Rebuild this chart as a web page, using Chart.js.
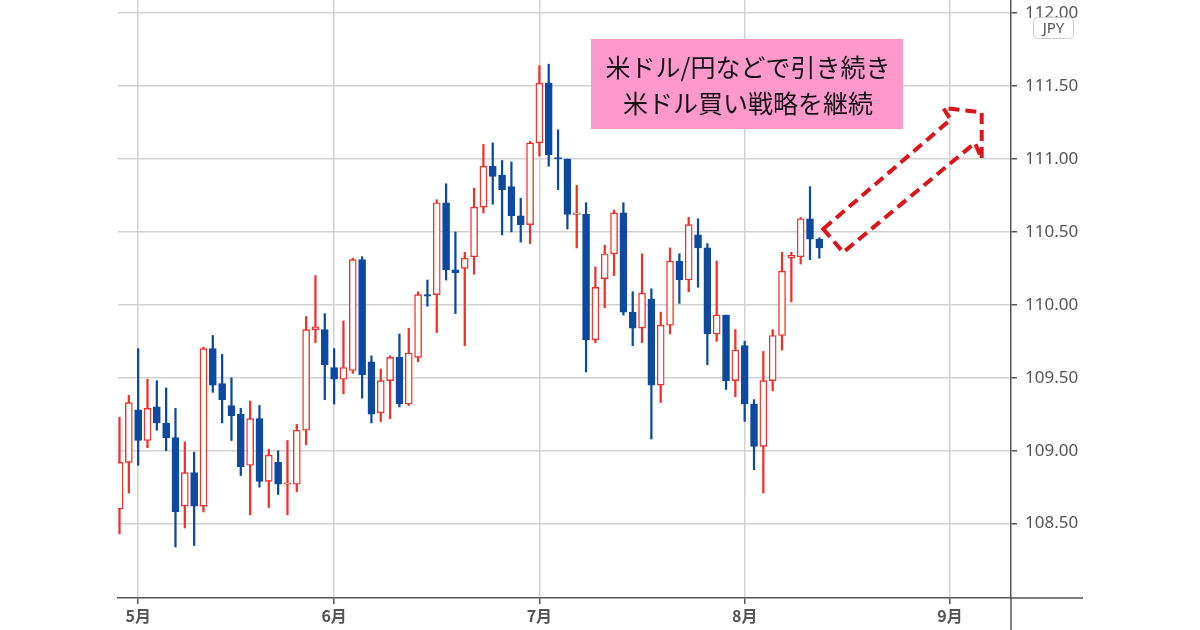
<!DOCTYPE html>
<html>
<head>
<meta charset="utf-8">
<script src="https://cdn.jsdelivr.net/npm/chart.js@4.4.1/dist/chart.umd.min.js"></script>
<style>
    body { margin: 0; background: #ffffff; }
    #wrap { width: 1200px; height: 630px; }
</style>
</head>
<body>
<div id="wrap"><canvas id="usdjpy-chart"></canvas></div>
<script>
// trading days from 4/29, one candle per weekday
var open_vals  = [108.60, 108.92, 109.28, 109.07, 109.30, 109.19, 109.09, 108.62, 108.85, 108.62,
                  109.70, 109.46, 109.31, 109.25, 108.90, 109.22, 108.79, 108.92, 108.77, 108.77,
                  109.14, 109.83, 109.83, 109.57, 109.49, 109.55, 110.31, 109.61, 109.26, 109.48,
                  109.64, 109.32, 109.64, 110.07, 110.07, 110.70, 110.24, 110.25, 110.33, 110.67,
                  110.95, 110.89, 110.81, 110.61, 110.55, 111.11, 111.52, 111.01, 111.00, 110.62,
                  110.62, 109.76, 110.18, 110.35, 110.63, 109.95, 109.84, 110.04, 109.45, 109.86,
                  110.30, 110.17, 110.48, 110.39, 109.80, 109.93, 109.48, 109.72, 109.32, 109.03,
                  109.48, 109.79, 110.32, 110.33, 110.59, 110.45];
var high_vals  = [109.23, 109.38, 109.70, 109.49, 109.48, 109.43, 109.29, 109.06, 108.99, 109.71,
                  109.79, 109.66, 109.50, 109.29, 109.34, 109.31, 109.01, 109.00, 109.07, 109.18,
                  109.92, 110.20, 109.94, 109.70, 109.89, 110.32, 110.33, 109.65, 109.56, 109.65,
                  109.80, 109.84, 110.09, 110.17, 110.72, 110.83, 110.50, 110.36, 110.80, 111.10,
                  111.11, 110.99, 110.98, 110.73, 111.12, 111.64, 111.65, 111.20, 111.00, 110.82,
                  110.70, 110.26, 110.41, 110.65, 110.70, 110.09, 110.35, 110.11, 109.95, 110.39,
                  110.35, 110.60, 110.59, 110.42, 110.30, 109.93, 109.83, 109.75, 109.35, 109.68,
                  109.83, 110.36, 110.36, 110.60, 110.81, 110.46];
var low_vals   = [108.43, 108.71, 108.90, 109.02, 109.14, 109.00, 108.34, 108.47, 108.35, 108.58,
                  109.40, 109.19, 109.07, 108.83, 108.56, 108.75, 108.61, 108.70, 108.56, 108.72,
                  109.04, 109.74, 109.35, 109.32, 109.39, 109.53, 109.36, 109.19, 109.20, 109.22,
                  109.30, 109.31, 109.61, 109.99, 109.81, 110.17, 109.94, 109.72, 110.21, 110.63,
                  110.69, 110.48, 110.50, 110.43, 110.42, 111.02, 110.95, 110.79, 110.52, 110.39,
                  109.54, 109.74, 109.98, 110.20, 109.93, 109.72, 109.74, 109.08, 109.33, 109.80,
                  110.01, 110.09, 110.12, 109.59, 109.75, 109.42, 109.37, 109.20, 108.87, 108.71,
                  109.41, 109.69, 110.02, 110.28, 110.31, 110.32];
var close_vals = [108.92, 109.33, 109.07, 109.29, 109.19, 109.09, 108.58, 108.85, 108.62, 109.70,
                  109.45, 109.35, 109.24, 108.89, 109.22, 108.79, 108.97, 108.77, 108.78, 109.14,
                  109.83, 109.85, 109.59, 109.49, 109.57, 110.31, 109.52, 109.25, 109.48, 109.64,
                  109.32, 109.67, 110.07, 110.06, 110.70, 110.24, 110.22, 110.32, 110.67, 110.95,
                  110.88, 110.79, 110.61, 110.55, 111.11, 111.52, 111.03, 111.00, 110.62, 110.63,
                  109.76, 110.12, 110.35, 110.63, 109.95, 109.84, 110.08, 109.45, 109.86, 110.30,
                  110.17, 110.55, 110.39, 109.80, 109.93, 109.48, 109.69, 109.32, 109.03, 109.48,
                  109.79, 110.23, 110.34, 110.59, 110.45, 110.39];

var month_idx = [2, 23, 45, 67, 89];
var month_labels = ["5月", "6月", "7月", "8月", "9月"];
var y_ticks = [108.5, 109.0, 109.5, 110.0, 110.5, 111.0, 111.5, 112.0];

var note_lines = ["米ドル/円などで引き続き", "米ドル買い戦略を継続"];
var currency = "JPY";

// outline of the dashed arrow, in (candle index, price)
var arrow_pts = [[75.42, 110.52], [89.07, 111.27], [88.28, 111.35], [92.40, 111.32],
                 [92.40, 111.00], [91.68, 111.11], [77.56, 110.36]];

const UP = "#f0302c";
const DOWN = "#0d4a9f";
const AXIS = "#555555";
const GRID = "#d2d2d2";

function is_up(i) {
    return close_vals[i] >= open_vals[i];
}

function no_padding(s) {
    s.paddingTop = 0;
    s.paddingBottom = 0;
    s.paddingLeft = 0;
    s.paddingRight = 0;
}

let bodies = open_vals.map((o, i) => ({ x: i, y: [o, close_vals[i]] }));
let wicks = low_vals.map((l, i) => ({ x: i, y: [l, high_vals[i]] }));

const extras = {
    id: "extras",
    afterDraw(chart) {
        const ctx = chart.ctx;
        const area = chart.chartArea;
        const xs = chart.scales.x;
        const ys = chart.scales.y;

        ctx.save();
        // axis lines run past the plot
        ctx.strokeStyle = AXIS;
        ctx.lineWidth = 1.5;
        ctx.beginPath();
        ctx.moveTo(area.right, area.bottom);
        ctx.lineTo(1083, area.bottom);
        ctx.moveTo(area.right, area.bottom);
        ctx.lineTo(area.right, 630);
        ctx.stroke();

        // currency badge
        ctx.fillStyle = "#ffffff";
        ctx.strokeStyle = "#cccccc";
        ctx.lineWidth = 1;
        ctx.beginPath();
        ctx.roundRect(1033.5, 17.5, 40, 21, 4);
        ctx.fill();
        ctx.stroke();
        ctx.fillStyle = "#555555";
        ctx.font = "15px 'Noto Sans'";
        ctx.textAlign = "center";
        ctx.textBaseline = "middle";
        ctx.fillText(currency, 1053.5, 28.5);

        // note box
        ctx.fillStyle = "#ff99cc";
        ctx.fillRect(591, 39, 312, 90);
        ctx.fillStyle = "#111111";
        ctx.font = "25px 'Noto Sans CJK JP'";
        ctx.fillText(note_lines[0], 748, 67);
        ctx.fillText(note_lines[1], 748, 103);

        // dashed arrow
        ctx.strokeStyle = "#d8161c";
        ctx.lineWidth = 4;
        ctx.setLineDash([11, 6]);
        ctx.beginPath();
        arrow_pts.forEach((p, k) => {
            let px = xs.getPixelForValue(p[0]);
            let py = ys.getPixelForValue(p[1]);
            if (k == 0) {
                ctx.moveTo(px, py);
            } else {
                ctx.lineTo(px, py);
            }
        });
        ctx.closePath();
        ctx.stroke();
        ctx.restore();
    }
};

const ctx = document.getElementById("usdjpy-chart");
new Chart(ctx, {
    type: "bar",
    data: {
        datasets: [{
            label: "body",
            data: bodies,
            backgroundColor: bodies.map((b, i) => is_up(i) ? "#ffffff" : DOWN),
            borderColor: bodies.map((b, i) => is_up(i) ? UP : DOWN),
            borderWidth: 1.4,
            borderSkipped: false,
            barThickness: 7,
            minBarLength: 1.5,
            grouped: false
        }, {
            label: "wick",
            data: wicks,
            backgroundColor: wicks.map((w, i) => is_up(i) ? UP : DOWN),
            borderWidth: 0,
            barThickness: 1.6,
            grouped: false
        }]
    },
    options: {
        responsive: true,
        maintainAspectRatio: false,
        animation: false,
        layout: {
            autoPadding: false,
            padding: { left: 118, top: 0, right: 0, bottom: 0 }
        },
        plugins: {
            legend: { display: false },
            tooltip: { enabled: false }
        },
        scales: {
            x: {
                type: "linear",
                offset: false,
                min: -0.16,
                max: 95.54,
                grid: {
                    offset: false,
                    color: GRID,
                    lineWidth: 1.5,
                    tickColor: AXIS,
                    tickLength: 6
                },
                border: { color: AXIS, width: 1.5 },
                afterBuildTicks: (s) => {
                    s.ticks = month_idx.map(v => ({ value: v }));
                },
                afterFit: (s) => {
                    s.height = 32;
                    no_padding(s);
                },
                ticks: {
                    padding: 2,
                    color: AXIS,
                    font: { family: "'Noto Sans CJK JP'", size: 16, weight: "bold" },
                    callback: (v, i) => month_labels[i]
                }
            },
            y: {
                position: "right",
                min: 107.99,
                max: 112.09,
                grid: {
                    color: GRID,
                    lineWidth: 1.5,
                    tickColor: AXIS,
                    tickLength: 6
                },
                border: { color: AXIS, width: 1.5 },
                afterBuildTicks: (s) => {
                    s.ticks = y_ticks.map(v => ({ value: v }));
                },
                afterFit: (s) => {
                    s.width = 189;
                    no_padding(s);
                },
                ticks: {
                    padding: 8,
                    color: AXIS,
                    font: { family: "'Noto Sans'", size: 17 },
                    callback: (v) => v.toFixed(2)
                }
            }
        }
    },
    plugins: [extras]
});
</script>
</body>
</html>
